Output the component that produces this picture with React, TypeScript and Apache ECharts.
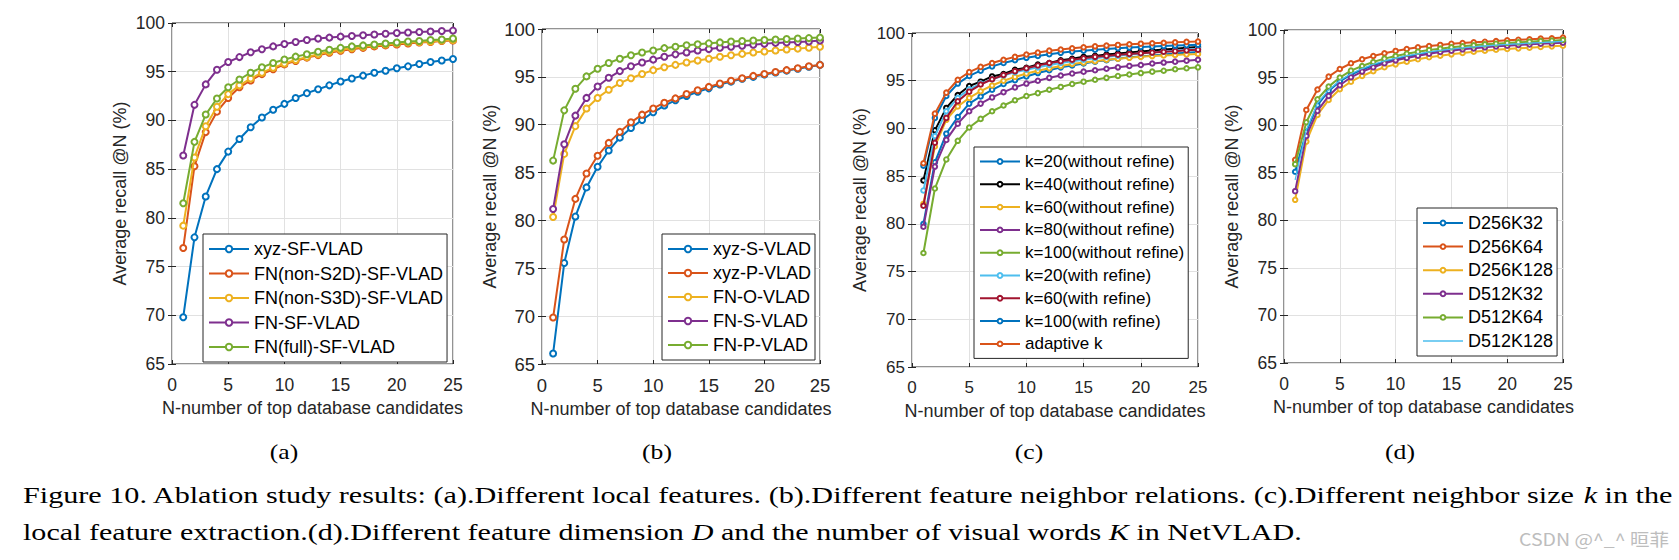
import React, { useEffect, useRef } from "react";
import * as echarts from "echarts";

// ---------- data ----------
const rankN = [1, 2, 3, 4, 5, 6, 7, 8, 9, 10, 11, 12, 13, 14, 15, 16, 17, 18, 19, 20, 21, 22, 23, 24, 25];
const xTicks = [0, 5, 10, 15, 20, 25];
const yTicks = [65, 70, 75, 80, 85, 90, 95, 100];

// (a) Different local features
const aXyzSF = [69.8, 78.0, 82.2, 85.0, 86.8, 88.1, 89.3, 90.3, 91.1, 91.7, 92.3, 92.8, 93.2, 93.6, 94.0, 94.3, 94.6, 94.9, 95.1, 95.35, 95.55, 95.8, 96.0, 96.15, 96.3];
const aNonS2D = [76.9, 85.3, 88.8, 90.9, 92.3, 93.4, 94.1, 94.75, 95.25, 95.75, 96.1, 96.45, 96.7, 96.95, 97.15, 97.3, 97.45, 97.6, 97.7, 97.8, 97.9, 98.0, 98.05, 98.15, 98.2];
const aNonS3D = [79.2, 86.2, 89.4, 91.4, 92.7, 93.6, 94.3, 94.9, 95.4, 95.85, 96.2, 96.5, 96.8, 97.05, 97.25, 97.4, 97.55, 97.7, 97.8, 97.9, 98.0, 98.05, 98.1, 98.2, 98.25];
const aFnSF = [86.4, 91.6, 93.7, 95.2, 96.0, 96.5, 97.0, 97.3, 97.6, 97.85, 98.05, 98.25, 98.4, 98.5, 98.6, 98.67, 98.75, 98.82, 98.9, 98.97, 99.02, 99.07, 99.12, 99.17, 99.22];
const aFull = [81.5, 87.8, 90.6, 92.25, 93.4, 94.2, 94.9, 95.45, 95.9, 96.25, 96.55, 96.8, 97.05, 97.25, 97.45, 97.6, 97.7, 97.8, 97.9, 98.0, 98.1, 98.15, 98.25, 98.3, 98.4];

// (b) Different feature neighbor relations
const bXyzS = [66.1, 75.55, 80.4, 83.45, 85.6, 87.3, 88.65, 89.65, 90.5, 91.3, 92.0, 92.55, 93.0, 93.45, 93.8, 94.2, 94.5, 94.8, 95.0, 95.25, 95.45, 95.65, 95.85, 96.05, 96.25];
const bXyzP = [69.85, 78.0, 82.25, 84.9, 86.75, 88.1, 89.25, 90.25, 91.05, 91.7, 92.3, 92.75, 93.2, 93.6, 93.95, 94.3, 94.6, 94.85, 95.1, 95.3, 95.5, 95.7, 95.9, 96.1, 96.25];
const bFnO = [80.35, 86.95, 89.85, 91.7, 92.8, 93.65, 94.35, 94.85, 95.3, 95.7, 96.0, 96.25, 96.5, 96.7, 96.9, 97.1, 97.25, 97.4, 97.55, 97.65, 97.75, 97.85, 97.95, 98.05, 98.15];
const bFnS = [81.2, 87.95, 90.95, 92.8, 94.0, 94.9, 95.6, 96.1, 96.5, 96.8, 97.1, 97.35, 97.55, 97.75, 97.9, 98.05, 98.15, 98.25, 98.35, 98.45, 98.55, 98.6, 98.65, 98.7, 98.8];
const bFnP = [86.25, 91.5, 93.75, 95.05, 95.85, 96.45, 96.9, 97.25, 97.55, 97.75, 98.0, 98.15, 98.3, 98.4, 98.5, 98.6, 98.7, 98.75, 98.8, 98.85, 98.9, 98.95, 99.0, 99.05, 99.1];

// (c) Different neighbor size k
const cK20 = [80.0, 86.45, 89.45, 91.2, 92.6, 93.35, 94.05, 94.65, 95.05, 95.45, 95.8, 96.1, 96.4, 96.6, 96.8, 97.0, 97.15, 97.3, 97.45, 97.55, 97.65, 97.75, 97.85, 97.93, 98.0];
const cK40 = [84.55, 89.8, 92.15, 93.5, 94.45, 94.9, 95.45, 95.7, 96.15, 96.35, 96.7, 96.85, 97.15, 97.3, 97.5, 97.6, 97.75, 97.85, 97.97, 98.07, 98.17, 98.27, 98.35, 98.45, 98.53];
const cK60 = [82.1, 88.1, 90.9, 92.3, 93.2, 93.9, 94.5, 95.0, 95.4, 95.75, 96.05, 96.3, 96.55, 96.75, 96.9, 97.05, 97.2, 97.3, 97.4, 97.5, 97.58, 97.65, 97.7, 97.76, 97.8];
const cK80 = [79.7, 86.0, 88.8, 90.5, 91.8, 92.6, 93.25, 93.8, 94.3, 94.7, 95.0, 95.3, 95.55, 95.75, 95.95, 96.1, 96.25, 96.4, 96.55, 96.65, 96.8, 96.9, 97.0, 97.1, 97.2];
const cK100 = [76.95, 83.7, 86.75, 88.7, 90.1, 91.0, 91.8, 92.4, 92.95, 93.4, 93.7, 94.05, 94.35, 94.65, 94.9, 95.1, 95.3, 95.5, 95.65, 95.8, 95.95, 96.05, 96.2, 96.3, 96.4];
const cK20R = [83.5, 89.2, 91.8, 93.2, 94.1, 94.7, 95.15, 95.55, 95.9, 96.15, 96.4, 96.65, 96.85, 97.05, 97.2, 97.35, 97.5, 97.62, 97.74, 97.85, 97.95, 98.05, 98.15, 98.25, 98.35];
const cK60R = [81.9, 88.5, 91.1, 92.85, 93.85, 94.6, 95.15, 95.6, 96.0, 96.3, 96.6, 96.85, 97.05, 97.2, 97.35, 97.5, 97.6, 97.72, 97.8, 97.88, 97.95, 98.03, 98.1, 98.18, 98.25];
const cK100R = [86.1, 91.1, 93.4, 94.7, 95.5, 96.05, 96.5, 96.85, 97.15, 97.4, 97.6, 97.78, 97.92, 98.05, 98.15, 98.25, 98.33, 98.4, 98.47, 98.53, 98.58, 98.63, 98.68, 98.72, 98.76];
const cAdaptive = [86.35, 91.55, 93.75, 95.1, 95.9, 96.45, 96.85, 97.2, 97.5, 97.75, 97.95, 98.15, 98.27, 98.4, 98.5, 98.6, 98.68, 98.75, 98.82, 98.88, 98.93, 98.98, 99.02, 99.07, 99.1];

// (d) Different feature dimension D and number of visual words K
const dD256K32 = [85.1, 89.3, 92.1, 93.6, 94.6, 95.3, 95.85, 96.3, 96.65, 96.95, 97.2, 97.42, 97.62, 97.8, 97.95, 98.07, 98.18, 98.28, 98.37, 98.45, 98.52, 98.6, 98.66, 98.72, 98.78];
const dD256K64 = [86.35, 91.6, 93.75, 95.1, 95.9, 96.5, 96.92, 97.27, 97.55, 97.8, 98.0, 98.18, 98.32, 98.43, 98.56, 98.63, 98.7, 98.77, 98.84, 98.91, 98.98, 99.02, 99.09, 99.12, 99.2];
const dD256K128 = [82.15, 88.27, 91.07, 92.65, 93.77, 94.57, 95.17, 95.66, 96.08, 96.39, 96.67, 96.92, 97.13, 97.3, 97.44, 97.58, 97.72, 97.83, 97.93, 98.0, 98.07, 98.14, 98.21, 98.28, 98.35];
const dD512K32 = [83.06, 88.87, 91.5, 93.07, 94.19, 95.03, 95.63, 96.08, 96.5, 96.81, 97.06, 97.3, 97.51, 97.69, 97.83, 97.97, 98.07, 98.18, 98.28, 98.35, 98.42, 98.49, 98.56, 98.6, 98.67];
const dD512K64 = [85.9, 90.3, 92.72, 94.05, 95.0, 95.73, 96.22, 96.64, 96.99, 97.27, 97.51, 97.72, 97.9, 98.04, 98.18, 98.28, 98.39, 98.49, 98.56, 98.63, 98.7, 98.77, 98.84, 98.88, 98.95];
const dD512K128 = [84.25, 89.5, 92.3, 93.7, 94.7, 95.4, 95.95, 96.4, 96.75, 97.05, 97.3, 97.5, 97.7, 97.85, 98.0, 98.12, 98.22, 98.32, 98.4, 98.48, 98.55, 98.62, 98.68, 98.74, 98.8];

const xAxisTitle = "N-number of top database candidates";
const yAxisTitle = "Average recall @N (%)";
const subLabels = ["(a)", "(b)", "(c)", "(d)"];
const captionLine1 =
  "Figure 10. Ablation study results: (a).Different local features. (b).Different feature neighbor relations. (c).Different neighbor size {i|k} in the";
const captionLine2 =
  "local feature extraction.(d).Different feature dimension {i|D} and the number of visual words {i|K} in NetVLAD.";
const watermark = "CSDN @^_^ 晅菲";

// MATLAB default palette
const C = {
  blue: "#0072BD",
  orange: "#D95319",
  yellow: "#EDB120",
  purple: "#7E2F8E",
  green: "#77AC30",
  cyan: "#4DBEEE",
  red: "#A2142F",
  black: "#000000",
};

type SeriesDef = { name: string; values: number[]; color: string; noMarker?: boolean; thin?: boolean };

const panels: {
  grid: { left: number; top: number; width: number; height: number };
  legend: { left: number; top: number; fontSize: number; lineHeight: number; gap: number; markerH: number };
  tickFont: number;
  symbolSize: number;
  lineWidth: number;
  series: SeriesDef[];
}[] = [
  {
    grid: { left: 172, top: 23, width: 281, height: 341 },
    legend: { left: 203, top: 234, fontSize: 18, lineHeight: 20, gap: 4.5, markerH: 8 },
    tickFont: 17.5,
    symbolSize: 6,
    lineWidth: 2,
    series: [
      { name: "xyz-SF-VLAD", values: aXyzSF, color: C.blue },
      { name: "FN(non-S2D)-SF-VLAD", values: aNonS2D, color: C.orange },
      { name: "FN(non-S3D)-SF-VLAD", values: aNonS3D, color: C.yellow },
      { name: "FN-SF-VLAD", values: aFnSF, color: C.purple },
      { name: "FN(full)-SF-VLAD", values: aFull, color: C.green },
    ],
  },
  {
    grid: { left: 542, top: 29, width: 278, height: 335 },
    legend: { left: 662, top: 234, fontSize: 18, lineHeight: 20, gap: 4, markerH: 8 },
    tickFont: 18.5,
    symbolSize: 6,
    lineWidth: 2,
    series: [
      { name: "xyz-S-VLAD", values: bXyzS, color: C.blue },
      { name: "xyz-P-VLAD", values: bXyzP, color: C.orange },
      { name: "FN-O-VLAD", values: bFnO, color: C.yellow },
      { name: "FN-S-VLAD", values: bFnS, color: C.purple },
      { name: "FN-P-VLAD", values: bFnP, color: C.green },
    ],
  },
  {
    grid: { left: 912, top: 33, width: 286, height: 334 },
    legend: { left: 974, top: 147, fontSize: 17, lineHeight: 19, gap: 3.8, markerH: 6 },
    tickFont: 17,
    symbolSize: 4.5,
    lineWidth: 2,
    series: [
      { name: "k=20(without refine)", values: cK20, color: C.blue },
      { name: "k=40(without refine)", values: cK40, color: C.black },
      { name: "k=60(without refine)", values: cK60, color: C.yellow },
      { name: "k=80(without refine)", values: cK80, color: C.purple },
      { name: "k=100(without refine)", values: cK100, color: C.green },
      { name: "k=20(with refine)", values: cK20R, color: C.cyan },
      { name: "k=60(with refine)", values: cK60R, color: C.red },
      { name: "k=100(with refine)", values: cK100R, color: C.blue },
      { name: "adaptive k", values: cAdaptive, color: C.orange },
    ],
  },
  {
    grid: { left: 1284, top: 30, width: 279, height: 333 },
    legend: { left: 1417, top: 208, fontSize: 18, lineHeight: 20, gap: 3.6, markerH: 6 },
    tickFont: 17.5,
    symbolSize: 4.5,
    lineWidth: 2,
    series: [
      { name: "D256K32", values: dD256K32, color: C.blue },
      { name: "D256K64", values: dD256K64, color: C.orange },
      { name: "D256K128", values: dD256K128, color: C.yellow },
      { name: "D512K32", values: dD512K32, color: C.purple },
      { name: "D512K64", values: dD512K64, color: C.green },
      { name: "D512K128", values: dD512K128, color: C.cyan, noMarker: true, thin: true },
    ],
  },
];

const AX = "#262626";
const SANS = "'Liberation Sans', Arial, sans-serif";
const SERIF = "'Liberation Serif', 'Times New Roman', serif";

function buildOption() {
  const grid: any[] = [];
  const xAxis: any[] = [];
  const yAxis: any[] = [];
  const series: any[] = [];
  const legend: any[] = [];

  panels.forEach((p, i) => {
    grid.push({
      ...p.grid,
      show: true,
      borderColor: AX,
      borderWidth: 1,
      backgroundColor: "#ffffff",
      containLabel: false,
    });
    const tick = { show: true, inside: true, length: 4, lineStyle: { color: AX, width: 1 } };
    xAxis.push({
      type: "value",
      gridIndex: i,
      position: "bottom",
      min: xTicks[0],
      max: xTicks[xTicks.length - 1],
      interval: xTicks[1] - xTicks[0],
      axisLine: { show: false },
      axisTick: tick,
      axisLabel: { margin: 12, fontSize: p.tickFont, color: AX, fontFamily: SANS },
      splitLine: { show: true, lineStyle: { color: "#e1e1e1", width: 1 } },
      name: xAxisTitle,
      nameLocation: "middle",
      nameGap: 35,
      nameTextStyle: { fontSize: 18, color: AX, fontFamily: SANS },
    });
    xAxis.push({
      type: "value",
      gridIndex: i,
      position: "top",
      min: xTicks[0],
      max: xTicks[xTicks.length - 1],
      interval: xTicks[1] - xTicks[0],
      axisLine: { show: false },
      axisTick: tick,
      axisLabel: { show: false },
      splitLine: { show: false },
    });
    yAxis.push({
      type: "value",
      gridIndex: i,
      position: "left",
      min: yTicks[0],
      max: yTicks[yTicks.length - 1],
      interval: yTicks[1] - yTicks[0],
      axisLine: { show: false },
      axisTick: tick,
      axisLabel: { margin: 7, fontSize: p.tickFont, color: AX, fontFamily: SANS },
      splitLine: { show: true, lineStyle: { color: "#e1e1e1", width: 1 } },
      name: yAxisTitle,
      nameLocation: "middle",
      nameGap: 43,
      nameTextStyle: { fontSize: 18, color: AX, fontFamily: SANS },
    });
    yAxis.push({
      type: "value",
      gridIndex: i,
      position: "right",
      min: yTicks[0],
      max: yTicks[yTicks.length - 1],
      interval: yTicks[1] - yTicks[0],
      axisLine: { show: false },
      axisTick: tick,
      axisLabel: { show: false },
      splitLine: { show: false },
    });

    p.series.forEach((s, k) => {
      series.push({
        type: "line",
        name: s.name,
        xAxisIndex: 2 * i,
        yAxisIndex: 2 * i,
        data: rankN.map((n, j) => [n, s.values[j]]),
        symbol: s.noMarker ? "none" : "emptyCircle",
        showSymbol: !s.noMarker,
        symbolSize: p.symbolSize,
        color: s.color,
        lineStyle: { color: s.color, width: s.thin ? 1.3 : p.lineWidth },
        itemStyle: { color: s.color, borderColor: s.color, borderWidth: 1.3 },
        z: 3 + k * 0.01,
        silent: true,
      });
    });

    legend.push({
      show: true,
      orient: "vertical",
      left: p.legend.left,
      top: p.legend.top,
      data: p.series.map((s) =>
        s.noMarker
          ? {
              name: s.name,
              icon: "path://M0,0L40,0L40,1.3L0,1.3Z",
              itemStyle: { borderWidth: 0, color: s.color },
            }
          : s.name
      ),
      symbolKeepAspect: true,
      backgroundColor: "#ffffff",
      borderColor: AX,
      borderWidth: 1,
      padding: [5, 4, 5, 5],
      itemGap: p.legend.gap,
      itemWidth: 40,
      itemHeight: p.legend.markerH,
      selectedMode: false,
      textStyle: {
        fontSize: p.legend.fontSize,
        lineHeight: p.legend.lineHeight,
        color: "#000000",
        fontFamily: SANS,
      },
      z: 10,
    });
  });

  const subCenters = [284, 657, 1029, 1400];
  const graphic: any[] = subLabels.map((t, i) => ({
    type: "text",
    x: subCenters[i],
    y: 452,
    scaleX: 1.22,
    style: {
      text: t,
      fontSize: 21,
      fontFamily: SERIF,
      fill: "#000000",
      align: "center",
      verticalAlign: "middle",
    },
  }));
  const italic = { fontStyle: "italic", fontSize: 24, fontFamily: SERIF, fill: "#000000" };
  graphic.push({
    type: "text",
    x: 23,
    y: 495,
    scaleX: 1.257,
    style: {
      text: captionLine1,
      fontSize: 24,
      fontFamily: SERIF,
      fill: "#000000",
      align: "left",
      verticalAlign: "middle",
      rich: { i: italic },
    },
  });
  graphic.push({
    type: "text",
    x: 23,
    y: 532,
    scaleX: 1.254,
    style: {
      text: captionLine2,
      fontSize: 24,
      fontFamily: SERIF,
      fill: "#000000",
      align: "left",
      verticalAlign: "middle",
      rich: { i: italic },
    },
  });
  graphic.push({
    type: "text",
    x: 1519,
    y: 539,
    scaleX: 1.15,
    style: {
      text: watermark,
      fontSize: 17,
      fontFamily: "'Noto Sans CJK SC', 'Noto Sans', sans-serif",
      fill: "#bdbdbd",
      align: "left",
      verticalAlign: "middle",
    },
  });

  return {
    animation: false,
    backgroundColor: "#ffffff",
    grid,
    xAxis,
    yAxis,
    series,
    legend,
    graphic,
  };
}

export default function App() {
  const ref = useRef<HTMLDivElement>(null);
  useEffect(() => {
    document.body.style.margin = "0";
    if (!ref.current) return;
    const chart = echarts.init(ref.current, undefined, { renderer: "svg" });
    chart.setOption(buildOption() as any);
    return () => chart.dispose();
  }, []);
  return <div ref={ref} style={{ width: 1679, height: 560 }} />;
}
